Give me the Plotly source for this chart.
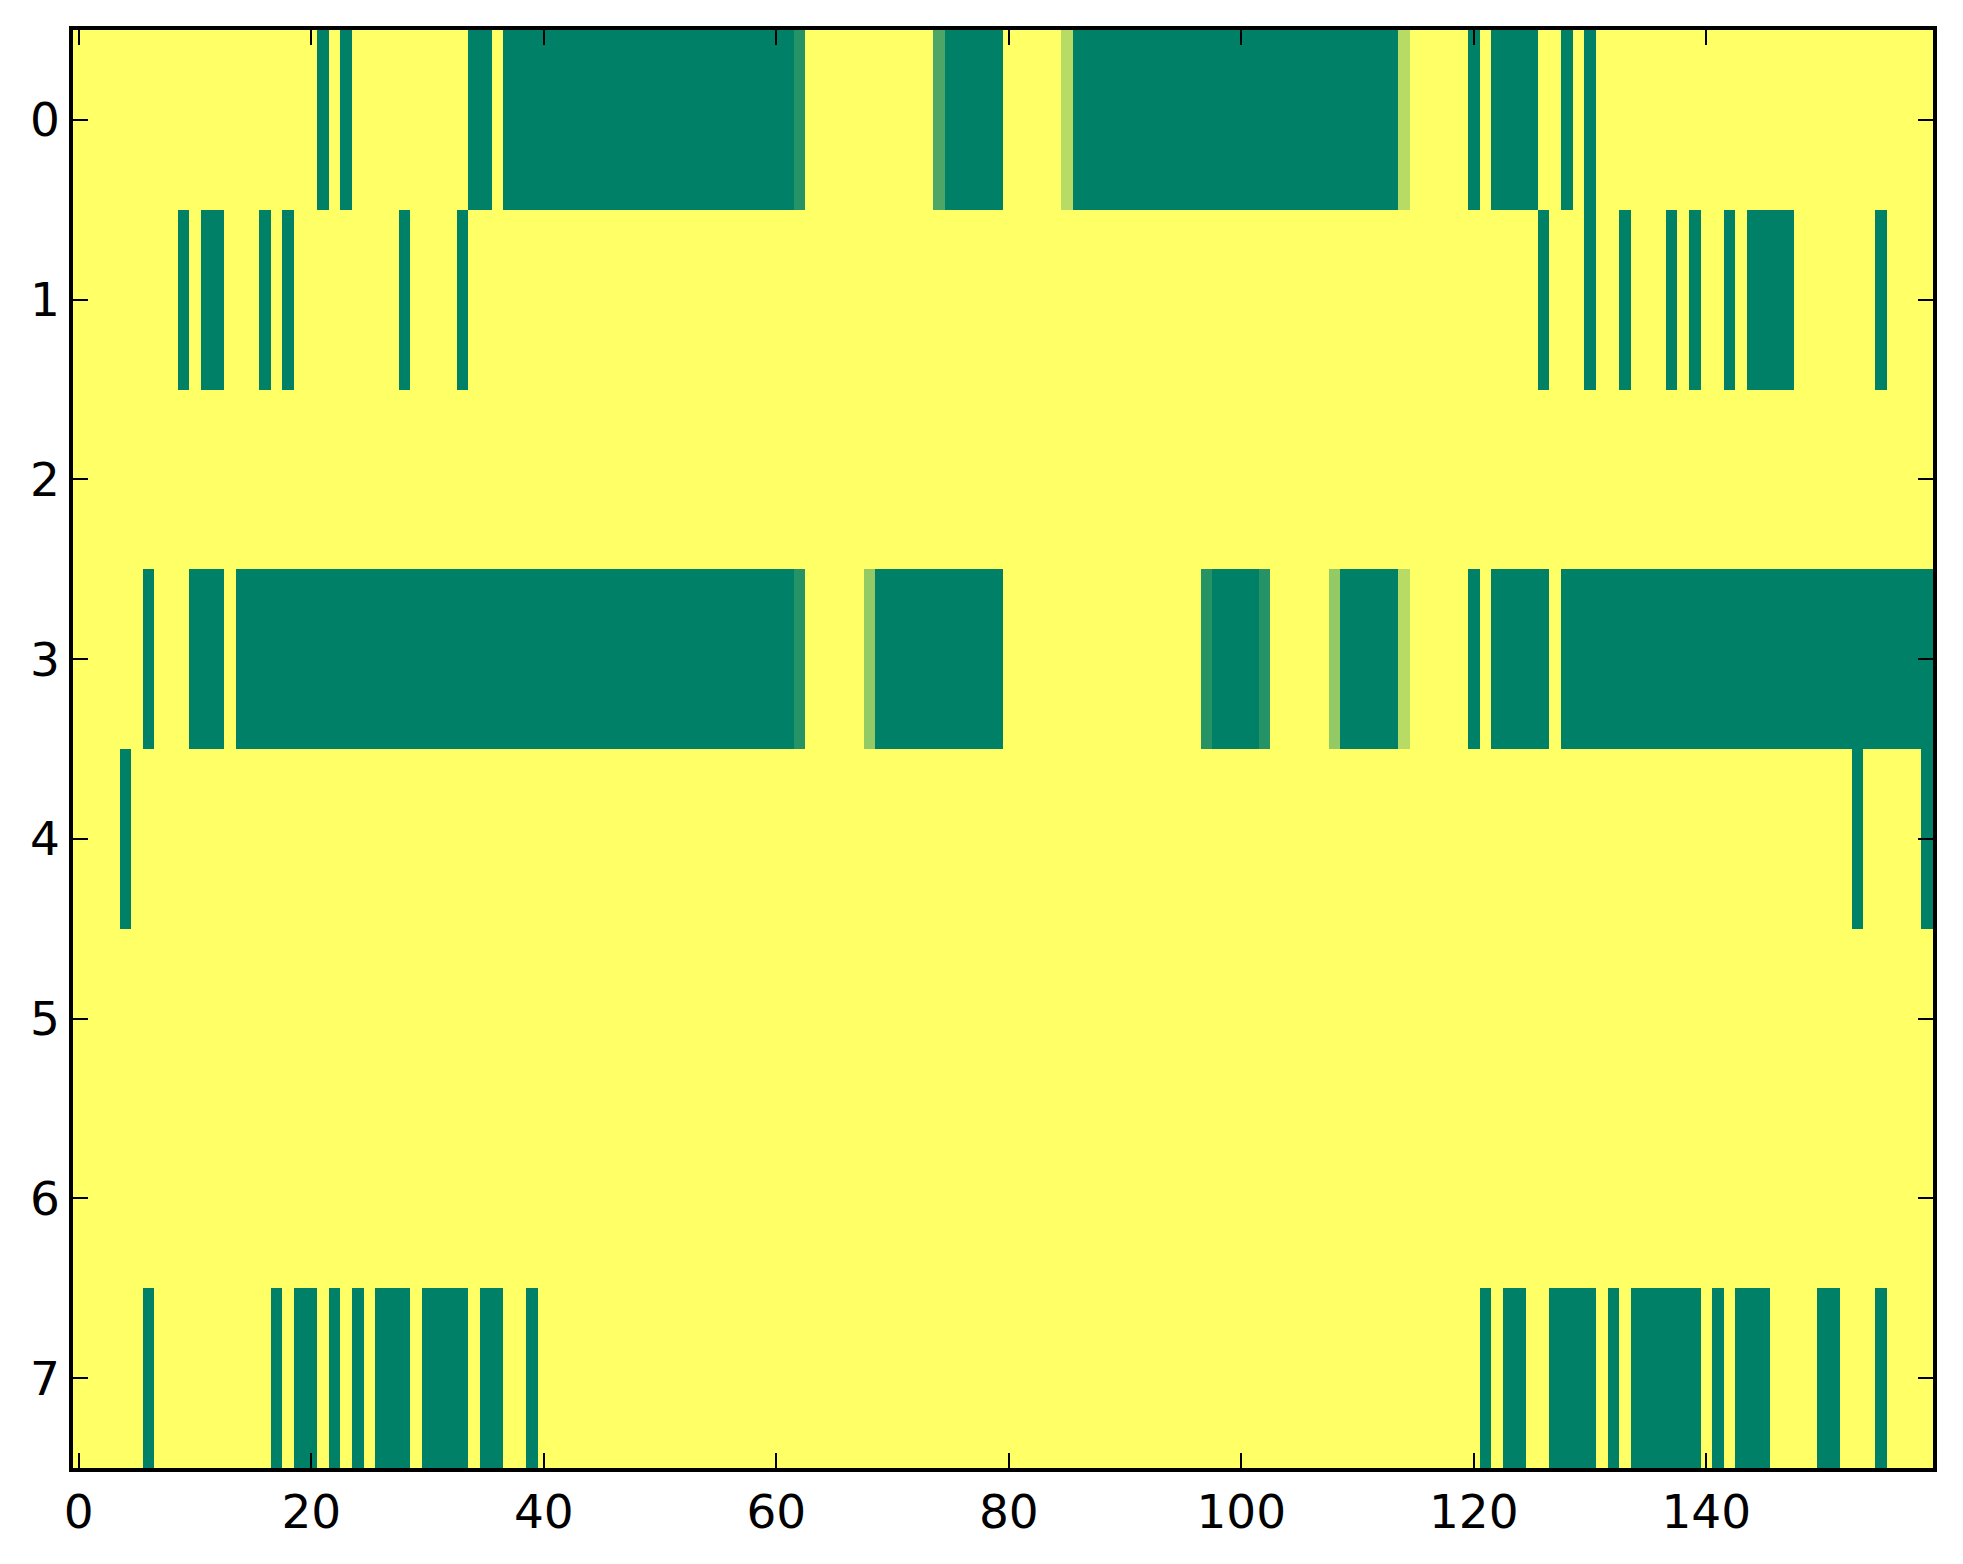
import numpy as np
import plotly.graph_objects as go

n_rows = 8
n_cols = 160

# Non-yellow cells per row: (first column, last column, value); other cells = 1.0
row0 = [(21, 21, 0), (23, 23, 0), (34, 35, 0), (37, 61, 0), (62, 62, 0.15),
        (74, 74, 0.30), (75, 79, 0), (85, 85, 0.72), (86, 113, 0), (114, 114, 0.72),
        (120, 120, 0), (122, 125, 0), (128, 128, 0), (130, 130, 0)]
row1 = [(9, 9, 0), (11, 12, 0), (16, 16, 0), (18, 18, 0), (28, 28, 0), (33, 33, 0),
        (126, 126, 0), (130, 130, 0), (133, 133, 0), (137, 137, 0), (139, 139, 0),
        (142, 142, 0), (144, 147, 0), (155, 155, 0)]
row2 = []
row3 = [(6, 6, 0), (10, 12, 0), (14, 61, 0), (62, 62, 0.15), (68, 68, 0.58),
        (69, 79, 0), (97, 97, 0.15), (98, 101, 0), (102, 102, 0.15), (108, 108, 0.58),
        (109, 113, 0), (114, 114, 0.72), (120, 120, 0), (122, 126, 0), (128, 159, 0)]
row4 = [(4, 4, 0), (153, 153, 0), (159, 159, 0)]
row5 = []
row6 = []
row7 = [(6, 6, 0), (17, 17, 0), (19, 20, 0), (22, 22, 0), (24, 24, 0), (26, 28, 0),
        (30, 33, 0), (35, 36, 0), (39, 39, 0), (121, 121, 0), (123, 124, 0),
        (127, 130, 0), (132, 132, 0), (134, 139, 0), (141, 141, 0), (143, 145, 0),
        (150, 151, 0), (155, 155, 0)]

rows = [row0, row1, row2, row3, row4, row5, row6, row7]
x_ticks = [0, 20, 40, 60, 80, 100, 120, 140]
y_ticks = [0, 1, 2, 3, 4, 5, 6, 7]

z = np.ones((n_rows, n_cols))
for r, segs in enumerate(rows):
    for a, b, v in segs:
        z[r, a:b + 1] = v

summer = [[0.0, "rgb(0,128,102)"], [1.0, "rgb(255,255,102)"]]

fig = go.Figure(go.Heatmap(
    z=z, x=np.arange(n_cols), y=np.arange(n_rows),
    colorscale=summer, zmin=0, zmax=1, showscale=False,
))

axis_common = dict(
    showline=True, linewidth=3.5, linecolor="black", mirror="ticks",
    ticks="inside", ticklen=15, tickwidth=1.7, tickcolor="black",
    showgrid=False, zeroline=False,
    tickfont=dict(family="DejaVu Sans", size=47, color="black"),
)

fig.update_xaxes(range=[-0.5, 159.5], tickvals=x_ticks, **axis_common)
fig.update_yaxes(range=[7.5, -0.5], tickvals=y_ticks, **axis_common)

fig.update_layout(
    width=1963, height=1564,
    margin=dict(l=73, r=30, t=30, b=96),
    paper_bgcolor="white", plot_bgcolor="white",
)

fig.write_html("out.html", config={"displayModeBar": False},
               post_script="document.body.style.margin='0';")
